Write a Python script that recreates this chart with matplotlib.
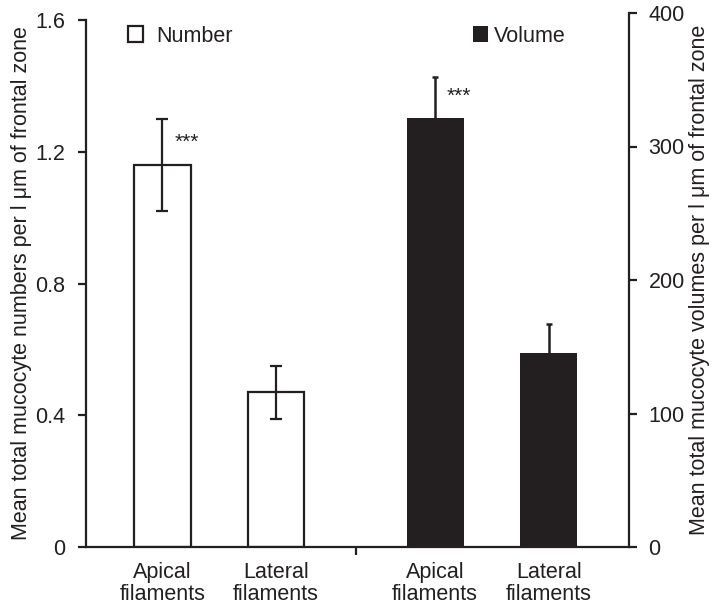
import matplotlib.pyplot as plt
import numpy as np

# data
categories = ['Apical\nfilaments', 'Lateral\nfilaments']
number_mean = [1.16, 0.47]
number_err = [0.14, 0.08]
volume_mean = [321, 145]
volume_err = [31, 22]
stars = ['***', '']

ink = '#231f20'
fs = 15.5
plt.rcParams['font.family'] = ['Liberation Sans', 'DejaVu Sans']
plt.rcParams['text.color'] = ink
plt.rcParams['axes.labelcolor'] = ink
plt.rcParams['xtick.color'] = ink
plt.rcParams['ytick.color'] = ink

W, H = 718, 604
fig = plt.figure(figsize=(W / 100, H / 100), dpi=100)
# left axis box: x 86..629, y 20..547 (pixels); right axis box goes a bit higher
ax = fig.add_axes([86 / W, 1 - 547 / H, 543 / W, 527 / H])
ax2 = fig.add_axes([86 / W, 1 - 547 / H, 543 / W, 534 / H], sharex=ax)
ax2.patch.set_visible(False)

x_num = np.arange(len(categories))
x_vol = x_num + 2.4
width = 0.5

b1 = ax.bar(x_num, number_mean, width, yerr=number_err, color='white',
            edgecolor=ink, linewidth=1.6, capsize=4,
            error_kw=dict(ecolor=ink, elinewidth=1.6, capthick=1.6))
b2 = ax2.bar(x_vol, volume_mean, width, yerr=volume_err, color=ink,
             edgecolor=ink, linewidth=0, capsize=2.5,
             error_kw=dict(ecolor=ink, elinewidth=1.8, capthick=1.8))

for a, xs, ms in [(ax, x_num, number_mean), (ax2, x_vol, volume_mean)]:
    for xi, m, s in zip(xs, ms, stars):
        if s:
            a.annotate(s, xy=(xi, m), xytext=(24, 17), textcoords='offset pixels',
                       ha='center', va='baseline', fontsize=15)

ax.set_xlim(-0.673, 4.106)
ax.set_ylim(0, 1.6)
ax.set_yticks([0, 0.4, 0.8, 1.2, 1.6])
ax.set_yticklabels(['0', '0.4', '0.8', '1.2', '1.6'])
ax2.set_ylim(0, 400)
ax2.set_yticks([0, 100, 200, 300, 400])

ax.set_xticks([1.7])
ax.set_xticklabels([''])
ax.set_xticks(list(x_num) + list(x_vol), categories * 2, minor=True)
ax.tick_params(axis='x', which='minor', length=0, pad=11, labelsize=fs)
ax.tick_params(axis='x', which='major', length=6, width=1.6, direction='out')
ax.tick_params(axis='y', length=6, width=1.6, pad=9, labelsize=fs)
ax2.tick_params(axis='y', length=6, width=1.6, pad=8, labelsize=fs)
ax2.tick_params(axis='x', which='both', bottom=False, labelbottom=False)
for lab in ax.get_xticklabels(minor=True):
    lab.set_linespacing(1.05)

for s in ['top', 'right']:
    ax.spines[s].set_visible(False)
for s in ['top', 'left', 'bottom']:
    ax2.spines[s].set_visible(False)
for s in ['left', 'bottom']:
    ax.spines[s].set_linewidth(1.6)
    ax.spines[s].set_color(ink)
ax2.spines['right'].set_linewidth(1.6)
ax2.spines['right'].set_color(ink)
ax2.yaxis.set_ticks_position('right')
ax2.yaxis.set_label_position('right')

ax.set_ylabel('Mean total mucocyte numbers per l \u03bcm of frontal zone',
              fontsize=fs, labelpad=2)
ax2.set_ylabel('Mean total mucocyte volumes per l \u03bcm of frontal zone',
               fontsize=fs, rotation=90, labelpad=3)

leg1 = fig.legend([b1], ['Number'], loc='center left', frameon=False,
                  bbox_to_anchor=(128 / W, 1 - 36 / H), fontsize=fs,
                  handlelength=0.7, handleheight=0.7, handletextpad=0.6,
                  borderpad=0, borderaxespad=0)
leg2 = fig.legend([b2], ['Volume'], loc='center left', frameon=False,
                  bbox_to_anchor=(473 / W, 1 - 36 / H), fontsize=fs,
                  handlelength=0.7, handleheight=0.7, handletextpad=0.25,
                  borderpad=0, borderaxespad=0)

fig.savefig('out.png', dpi=100)
